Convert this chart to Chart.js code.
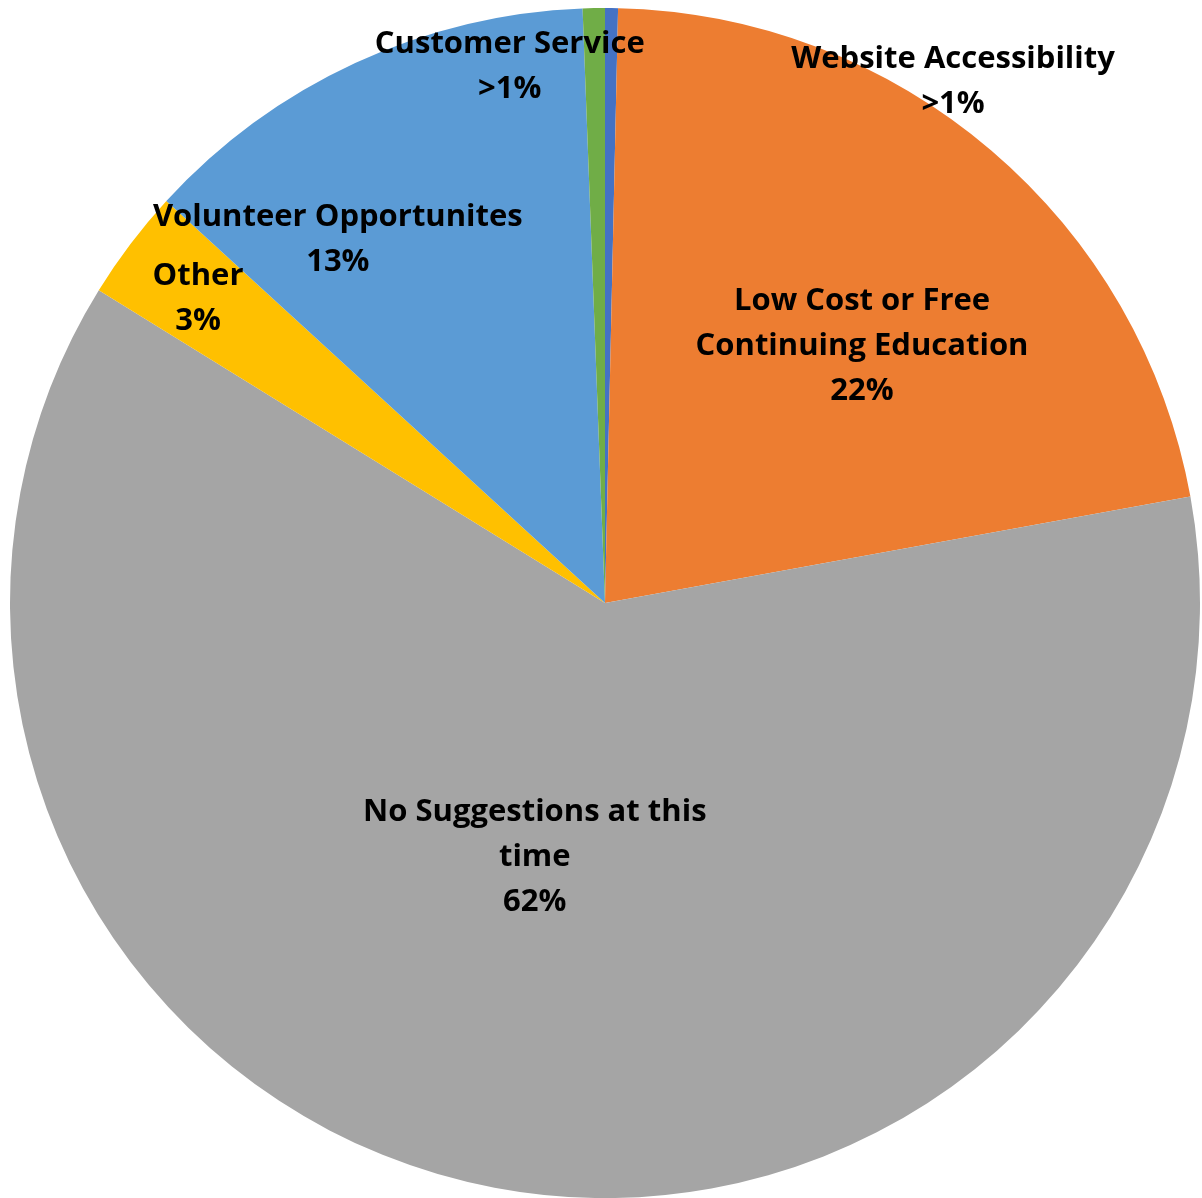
<!DOCTYPE html>
<html>
<head>
<meta charset="utf-8">
<script src="https://cdn.jsdelivr.net/npm/chart.js@4.4.1/dist/chart.umd.min.js"></script>
<style>
    html, body { margin: 0; padding: 0; background: #fff; }
    #wrap { width: 1202px; height: 1198px; }
</style>
</head>
<body>
<div id="wrap"><canvas id="suggestionChart"></canvas></div>
<script>
// Survey answers, clockwise from 12 o'clock
const categories = [
    ['Website Accessibility'],
    ['Low Cost or Free', 'Continuing Education'],
    ['No Suggestions at this', 'time'],
    ['Other'],
    ['Volunteer Opportunites'],
    ['Customer Service']
];
const shares = [0.35, 21.8, 61.7, 3.0, 12.6, 0.6];
const sliceColors = ['#4472C4', '#ED7D31', '#A5A5A5', '#FFC000', '#5B9BD5', '#70AD47'];

// where each label block sits, as a fraction of the radius from the centre
const labelSpots = [
    [0.585, -0.876],
    [0.432, -0.431],
    [-0.118, 0.428],
    [-0.684, -0.511],
    [-0.449, -0.610],
    [-0.160, -0.901]
];

function pctText(v) {
    return v < 1 ? '>1%' : Math.round(v) + '%';
}

// Data labels drawn on top of the slices
const sliceLabels = {
    id: 'sliceLabels',
    afterDatasetsDraw(chart) {
        const ctx = chart.ctx;
        const meta = chart.getDatasetMeta(0);
        ctx.save();
        ctx.font = 'bold 31px "Open Sans", Lato, sans-serif';
        ctx.fillStyle = '#000';
        ctx.textAlign = 'center';
        ctx.textBaseline = 'middle';
        const lineH = 45;
        meta.data.forEach((arc, i) => {
            const r = arc.outerRadius;
            const cx = arc.x + labelSpots[i][0] * r;
            const cy = arc.y + labelSpots[i][1] * r;
            const lines = categories[i].concat([pctText(shares[i])]);
            const top = cy - (lines.length - 1) * lineH / 2;
            lines.forEach((ln, k) => ctx.fillText(ln, cx, top + k * lineH));
        });
        ctx.restore();
    }
};

new Chart(document.getElementById('suggestionChart'), {
    type: 'pie',
    data: {
        labels: categories.map(c => c.join(' ')),
        datasets: [{
            data: shares,
            backgroundColor: sliceColors,
            borderWidth: 0
        }]
    },
    options: {
        responsive: true,
        maintainAspectRatio: false,
        animation: false,
        layout: { padding: { left: 8, top: 8, right: 0, bottom: 0 } },
        plugins: {
            legend: { display: false },
            tooltip: { enabled: false }
        }
    },
    plugins: [sliceLabels]
});
</script>
</body>
</html>
